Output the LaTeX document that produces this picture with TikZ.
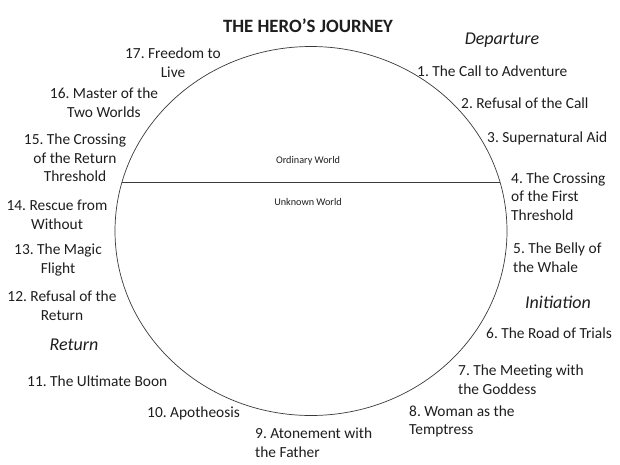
\documentclass[tikz,border=0pt]{standalone}
\usepackage{fontspec}
\setmainfont{Carlito}
\frenchspacing
\usepackage{xcolor}
\definecolor{ink}{HTML}{1E1E1E}
\definecolor{rim}{HTML}{3A3A3A}
\usepackage{tikz}
\usetikzlibrary{positioning}

\begin{document}
\begin{tikzpicture}[x=1pt, y=-1pt,
    stage/.style={inner sep=0pt, text=ink, font=\fontsize{15.4}{18.6}\selectfont},
    stageR/.style={stage, anchor=west, align=left},
    stageL/.style={stage, align=center},
    phase/.style={inner sep=0pt, text=ink, font=\fontsize{18}{20}\selectfont\itshape},
    world/.style={inner sep=0pt, text=ink, font=\fontsize{10.2}{12}\selectfont},
    rimline/.style={draw=rim, line width=0.7pt}]
  \useasboundingbox[fill=white] (0,0) rectangle (620,465);
  % circle and threshold
  \draw[rimline] (311,231) ellipse [x radius=196, y radius=184.5];
  \coordinate (thl) at (122,182);
  \coordinate (thr) at (500,182);
  \draw[rimline] (thl) -- (thr);
  \node[world] (ordinary) at (308,161) {Ordinary World};
  \node[world] (unknown) at (308,202) {Unknown World};
  % title and phases
  \node[inner sep=0pt, text=ink, font=\fontsize{18.8}{22}\selectfont\bfseries] (title) at (308,26) {THE HERO’S JOURNEY};
  \node[phase] (departure) at (502,40) {Departure};
  \node[phase] (initiation) at (558,302) {Initiation};
  \node[phase] (return) at (74,345) {Return};
  % right side
  \node[stageR] (s1) at (417,71) {1. The Call to Adventure};
  \node[stageR] (s2) at (461,103) {2. Refusal of the Call};
  \node[stageR] (s3) at (487,138) {3. Supernatural Aid};
  \node[stageR] (s4) at (511,196.5) {4. The Crossing\\of the First\\Threshold};
  \node[stageR] (s5) at (513,257.5) {5. The Belly of\\the Whale};
  \node[stageR] (s6) at (486,333) {6. The Road of Trials};
  \node[stageR] (s7) at (458,380) {7. The Meeting with\\the Goddess};
  \node[stageR] (s8) at (409,421.5) {8. Woman as the\\Temptress};
  \node[stageR] (s9) at (255,442.5) {9. Atonement with\\the Father};
  % left side
  \node[stageR] (s10) at (147,413) {10. Apotheosis};
  \node[stageR] (s11) at (27,381) {11. The Ultimate Boon};
  \node[stageL] (s12) at (62,306) {12. Refusal of the\\Return};
  \node[stageL] (s13) at (58,260) {13. The Magic\\Flight};
  \node[stageL] (s14) at (57,214.5) {14. Rescue from\\Without};
  \node[stageL] (s15) at (75,158) {15. The Crossing\\of the Return\\Threshold};
  \node[stageL] (s16) at (104,102.5) {16. Master of the\\Two Worlds};
  \node[stageL] (s17) at (173,62.5) {17. Freedom to\\Live};
\end{tikzpicture}
\end{document}
